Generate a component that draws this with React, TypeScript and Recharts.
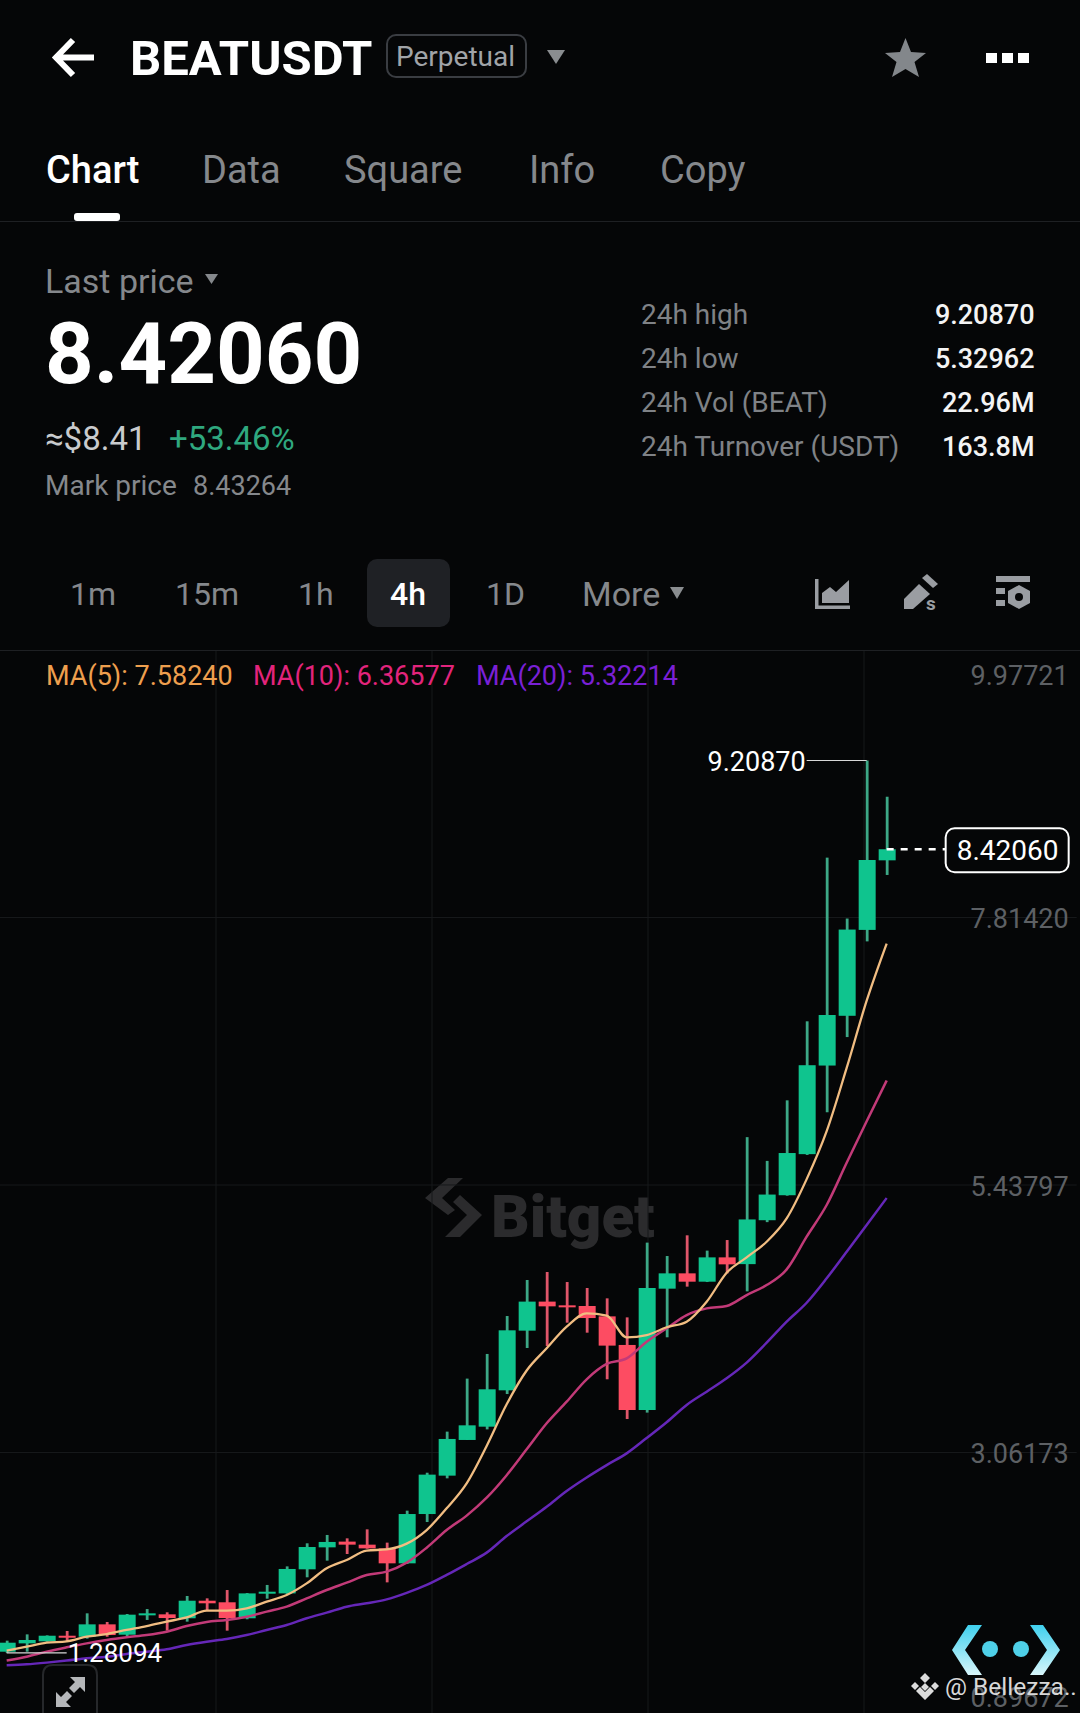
import React from 'react';
import { Bar, CartesianGrid, ComposedChart, Line, ReferenceDot, ReferenceLine, XAxis, YAxis } from 'recharts';

const opens = [1.292, 1.366, 1.384, 1.434, 1.425, 1.535, 1.443, 1.615, 1.624, 1.589, 1.745, 1.731, 1.589, 1.808, 1.81, 2.024, 2.219, 2.27, 2.243, 2.21, 2.077, 2.515, 2.856, 3.173, 3.291, 3.614, 4.144, 4.402, 4.369, 4.363, 4.271, 4.017, 3.439, 4.517, 4.653, 4.579, 4.795, 4.735, 5.125, 5.347, 5.712, 6.499, 6.941, 7.704, 8.322];
const closes = [1.372, 1.396, 1.434, 1.42, 1.535, 1.44, 1.621, 1.633, 1.591, 1.745, 1.722, 1.591, 1.81, 1.825, 2.027, 2.222, 2.267, 2.243, 2.21, 2.077, 2.515, 2.865, 3.182, 3.303, 3.623, 4.147, 4.402, 4.36, 4.354, 4.256, 4.011, 3.439, 4.523, 4.653, 4.579, 4.795, 4.733, 5.132, 5.353, 5.722, 6.502, 6.948, 7.707, 8.325, 8.4206];
const highs = [1.39, 1.446, 1.437, 1.476, 1.633, 1.556, 1.627, 1.671, 1.642, 1.787, 1.766, 1.84, 1.813, 1.885, 2.05, 2.255, 2.329, 2.299, 2.379, 2.261, 2.545, 2.882, 3.247, 3.718, 3.937, 4.274, 4.594, 4.665, 4.576, 4.523, 4.431, 4.262, 4.926, 4.807, 4.991, 4.855, 4.949, 5.863, 5.652, 6.19, 6.892, 8.346, 7.805, 9.2087, 8.887];
const lows = [1.28094, 1.292, 1.381, 1.387, 1.408, 1.425, 1.42, 1.574, 1.479, 1.559, 1.657, 1.479, 1.58, 1.763, 1.805, 1.953, 2.101, 2.16, 2.207, 1.908, 2.071, 2.444, 2.832, 3.173, 3.267, 3.581, 3.99, 4.008, 4.215, 4.126, 3.712, 3.359, 3.416, 4.085, 4.535, 4.576, 4.653, 4.493, 5.108, 5.343, 5.705, 6.084, 6.752, 7.602, 8.192];
const ma5 = [1.301, 1.337, 1.372, 1.384, 1.425, 1.449, 1.485, 1.52, 1.559, 1.597, 1.657, 1.657, 1.677, 1.737, 1.796, 1.899, 2.033, 2.107, 2.19, 2.201, 2.252, 2.373, 2.566, 2.788, 3.12, 3.49, 3.79, 3.987, 4.179, 4.298, 4.277, 4.085, 4.105, 4.174, 4.224, 4.401, 4.659, 4.795, 4.934, 5.141, 5.49, 5.916, 6.478, 7.075, 7.5824];
const ma10 = [1.213, 1.248, 1.293, 1.331, 1.366, 1.396, 1.42, 1.44, 1.47, 1.52, 1.556, 1.574, 1.603, 1.648, 1.692, 1.766, 1.84, 1.905, 1.973, 2.003, 2.083, 2.216, 2.373, 2.501, 2.66, 2.86, 3.09, 3.321, 3.513, 3.712, 3.848, 3.898, 4.046, 4.165, 4.283, 4.342, 4.363, 4.46, 4.549, 4.688, 4.979, 5.26, 5.635, 6.004, 6.36577];
const ma20 = [1.171, 1.18, 1.195, 1.213, 1.234, 1.248, 1.272, 1.292, 1.313, 1.352, 1.381, 1.405, 1.44, 1.485, 1.529, 1.589, 1.639, 1.692, 1.722, 1.757, 1.815, 1.885, 1.974, 2.071, 2.172, 2.32, 2.45, 2.58, 2.72, 2.84, 2.95, 3.054, 3.19, 3.33, 3.484, 3.602, 3.721, 3.86, 4.037, 4.224, 4.392, 4.609, 4.845, 5.082, 5.32214];

const priceTicks = [0.89672, 3.06173, 5.43797, 7.8142, 9.97721];
const gridPrices = [3.06173, 5.43797, 7.8142];
const tabs = ['Chart', 'Data', 'Square', 'Info', 'Copy'];
const tabX = [46, 202, 344, 529, 660];
const intervals = ['1m', '15m', '1h', '4h', '1D', 'More'];
const intervalX = [70, 175, 298, 390, 486, 582];
const stats = [
    ['24h high', '9.20870'],
    ['24h low', '5.32962'],
    ['24h Vol (BEAT)', '22.96M'],
    ['24h Turnover (USDT)', '163.8M'],
];
const statY = [315, 358.5, 403, 446.5];

const lastPrice = 8.4206;
const highPrice = 9.2087;
const lowPrice = 1.28094;
const SLOTS = 54;

const rows = Array.from({ length: SLOTS }, (_, i) => ({
    slot: i,
    open: opens[i],
    close: closes[i],
    high: highs[i],
    low: lows[i],
    ma5: ma5[i],
    ma10: ma10[i],
    ma20: ma20[i],
}));

const UP = '#0fc48e';
const DOWN = '#fd4c62';
const UP_WICK = '#3da886';
const DOWN_WICK = '#e0566a';
const BG = '#050607';
const ICON = '#9a9da2';
const FONT = 'Roboto, sans-serif';

function Candle({ x, y, width, height, payload }: any) {
    if (payload.high == null) return null;
    const { open, close, high, low } = payload;
    const top = Math.min(y, y + height);
    const unit = Math.abs(height) / (high - low);
    const bodyTop = top + (high - Math.max(open, close)) * unit;
    const bodyH = Math.max(Math.abs(open - close) * unit, 2);
    const up = close >= open;
    return (
        <g>
            <rect x={x + width / 2 - 1.4} y={top} width={2.8} height={Math.abs(height)} fill={up ? UP_WICK : DOWN_WICK} />
            <rect x={x} y={bodyTop} width={width} height={bodyH} fill={up ? UP : DOWN} />
        </g>
    );
}

function PriceTag({ cx, cy }: any) {
    return (
        <g>
            <rect x={cx - 61} y={cy - 21} width={123} height={44} rx={9} fill={BG} stroke="#fff" strokeWidth={2} />
            <text x={cx + 1} y={cy + 3.5} fill="#fff" fontSize={28} fontFamily={FONT} textAnchor="middle" dominantBaseline="middle">
                {lastPrice.toFixed(5)}
            </text>
        </g>
    );
}

function Txt({ x, y, size, color, weight = 400, right = false, children }: any) {
    const pos = right ? { right: 1080 - x } : { left: x };
    return (
        <div style={{ position: 'absolute', ...pos, top: y, transform: 'translateY(-50%)', fontSize: size, color, fontWeight: weight, fontFamily: FONT, lineHeight: 1, whiteSpace: 'nowrap' }}>
            {children}
        </div>
    );
}

function Icons() {
    return (
        <svg width={1080} height={1713} style={{ position: 'absolute', left: 0, top: 0 }}>
            {/* header */}
            <path d="M73 40 L56 57.5 L73 75 M56 57.5 H94" fill="none" stroke="#fff" strokeWidth={6} />
            <polygon points="547,50 565,50 556,64" fill="#8a8d90" />
            <polygon points="905.5,38 911,52 926,53 914.5,62 919,77 905.5,69 892,77 896.5,62 885,53 900,52" fill="#83878b" />
            <rect x={986} y={53} width={11} height={10} fill="#fff" />
            <rect x={1002} y={53} width={11} height={10} fill="#fff" />
            <rect x={1018} y={53} width={11} height={10} fill="#fff" />
            <rect x={74} y={213} width={46} height={8} rx={3} fill="#fff" />
            <rect x={0} y={221} width={1080} height={1} fill="#1e2023" />
            <polygon points="205,274 218,274 211.5,284" fill="#85888c" />
            {/* interval row */}
            <rect x={367} y={559} width={83} height={68} rx={10} fill="#1f2125" />
            <polygon points="670,587 684,587 677,599" fill="#8a8d90" />
            <path d="M815 579 h3.5 v26.5 h31.5 v3.5 h-35 z" fill={ICON} />
            <polygon points="822,603 822,593 830,587 836,592 849,580 849,603" fill={ICON} />
            <polygon points="904,599 919,584 930,594 913,609 904,609" fill={ICON} />
            <polygon points="927,574 938,584 933,588 922,578" fill={ICON} />
            <text x={926} y={610} fontSize={19} fontWeight={700} fontFamily={FONT} fill={ICON}>s</text>
            <rect x={996} y={576} width={34} height={6} fill={ICON} />
            <rect x={996} y={588} width={9} height={6} fill={ICON} />
            <rect x={996} y={600} width={9} height={6} fill={ICON} />
            <polygon points="1019,585 1030,591 1030,603 1019,609 1008,603 1008,591" fill={ICON} />
            <circle cx={1019} cy={597} r={4} fill={BG} />
            <rect x={0} y={650} width={1080} height={1} fill="#1e2023" />
            {/* Bitget watermark */}
            <polygon points="448,1178 463,1178 442,1198 455,1210 448,1215 425,1198" fill="#2b2b2d" />
            <polygon points="460,1195 482,1215 460,1237 445,1237 467,1215 453,1202" fill="#2b2b2d" />
            <text x={491} y={1237} fontSize={60} fontWeight={900} fontFamily={FONT} fill="#2b2b2d">Bitget</text>
            {/* expand button */}
            <path d="M43 1713 V1675 Q43 1665 53 1665 H87 Q97 1665 97 1675 V1713" fill="none" stroke="#26282b" strokeWidth={2} />
            <path d="M70 1677 H85 V1692 L80 1687 L74 1693 L69 1688 L75 1682 Z M71 1707 H56 V1692 L61 1697 L67 1691 L72 1696 L66 1702 Z" fill="#b5b7ba" />
            {/* corner logo */}
            <defs>
                <linearGradient id="cy" x1="0" y1="0" x2="0" y2="1">
                    <stop offset="0" stopColor="#3fd0ee" />
                    <stop offset="1" stopColor="#d8f6fb" />
                </linearGradient>
            </defs>
            <polygon points="952,1650 968,1625 982,1625 965,1650 982,1675 968,1675" fill="url(#cy)" />
            <polygon points="1060,1650 1043,1625 1030,1625 1047,1650 1030,1675 1043,1675" fill="url(#cy)" />
            <circle cx={990} cy={1649} r={8} fill="#4fd0e8" />
            <circle cx={1021} cy={1649} r={8} fill="#4fd0e8" />
            <path d="M925 1673 l5 5 l-5 5 l-5 -5 z M915 1682 l4 4 l-4 4 l-4 -4 z M935 1682 l4 4 l-4 4 l-4 -4 z M925 1683 l4 4 l-4 4 l-4 -4 z M925 1692 l5 -5 l4 4 l-9 9 l-9 -9 l4 -4 z" fill="#dcdcdc" />
        </svg>
    );
}

function App() {
    return (
        <div style={{ position: 'absolute', left: 0, top: 0, width: 1080, height: 1713, background: BG, overflow: 'hidden' }}>
            <Icons />

            <Txt x={130} y={58} size={49} color="#fff" weight={700}>BEATUSDT</Txt>
            <div style={{ position: 'absolute', left: 386, top: 34, width: 141, height: 44, boxSizing: 'border-box', border: '2px solid #3a3d42', borderRadius: 10 }} />
            <Txt x={396} y={56.5} size={28} color="#a0a4a8">Perpetual</Txt>

            {tabs.map((t, i) => (
                <Txt key={t} x={tabX[i]} y={170} size={38} color={i === 0 ? '#fff' : '#85888c'} weight={i === 0 ? 500 : 400}>{t}</Txt>
            ))}

            <Txt x={45} y={281} size={34} color="#85888c">Last price</Txt>
            <Txt x={45} y={354} size={85} color="#fff" weight={700}>8.42060</Txt>
            <Txt x={45} y={438} size={33} color="#c9cbcd">≈$8.41</Txt>
            <Txt x={169} y={438} size={33} color="#2fa87f">+53.46%</Txt>
            <Txt x={45} y={486} size={28} color="#85888c">Mark price</Txt>
            <Txt x={193} y={486} size={27} color="#85888c">8.43264</Txt>

            {stats.map(([label, value], i) => (
                <React.Fragment key={label}>
                    <Txt x={641} y={statY[i]} size={28} color="#7f8286">{label}</Txt>
                    <Txt x={1034.5} y={statY[i]} size={27} color="#f4f4f4" weight={500} right>{value}</Txt>
                </React.Fragment>
            ))}

            {intervals.map((t, i) => (
                <Txt key={t} x={intervalX[i]} y={594} size={t === 'More' ? 34 : 32} color={t === '4h' ? '#fff' : '#85888c'} weight={t === '4h' ? 500 : 400}>{t}</Txt>
            ))}

            <div style={{ position: 'absolute', left: 0, top: 651 }}>
                <ComposedChart
                    width={1080}
                    height={1062}
                    data={rows}
                    margin={{ top: 0, right: 3.33, bottom: 0, left: -3.33 }}
                >
                    <CartesianGrid
                        stroke="#17191b"
                        horizontalValues={gridPrices}
                        verticalPoints={[216, 432, 648, 864]}
                    />
                    <XAxis dataKey="slot" type="category" hide />
                    <YAxis
                        orientation="right"
                        mirror
                        domain={[0.7475, 10.1816]}
                        ticks={priceTicks}
                        interval={0}
                        allowDataOverflow
                        axisLine={false}
                        tickLine={false}
                        tick={{ fill: '#5d6064', fontSize: 27, fontFamily: FONT, dy: 1 }}
                        tickFormatter={(v: number) => v.toFixed(5)}
                    />
                    <ReferenceLine
                        segment={[{ x: 44, y: lastPrice }, { x: 47, y: lastPrice }]}
                        stroke="#fff"
                        strokeWidth={2.4}
                        strokeDasharray="7 7"
                    />
                    <Bar
                        dataKey={(d: any) => (d.high == null ? undefined : [d.low, d.high])}
                        barSize={17}
                        shape={<Candle />}
                        isAnimationActive={false}
                    />
                    <Line dataKey="ma20" type="monotone" stroke="#6527b8" strokeWidth={2.5} dot={false} isAnimationActive={false} />
                    <Line dataKey="ma10" type="monotone" stroke="#c23a78" strokeWidth={2.5} dot={false} isAnimationActive={false} />
                    <Line dataKey="ma5" type="monotone" stroke="#f1bd82" strokeWidth={2.3} dot={false} isAnimationActive={false} />
                    <ReferenceLine segment={[{ x: 40, y: highPrice }, { x: 43, y: highPrice }]} stroke="#d8d8d8" strokeWidth={1.2} />
                    <ReferenceDot
                        x={40}
                        y={highPrice}
                        r={0}
                        stroke="none"
                        label={{ value: highPrice.toFixed(5), position: 'left', offset: 1, fill: '#fff', fontSize: 27, fontFamily: FONT, dy: 1 }}
                    />
                    <ReferenceLine segment={[{ x: 0, y: lowPrice }, { x: 3, y: lowPrice }]} stroke="#d8d8d8" strokeWidth={1.2} />
                    <ReferenceDot
                        x={3}
                        y={lowPrice}
                        r={0}
                        stroke="none"
                        label={{ value: lowPrice.toFixed(5), position: 'right', offset: 1, fill: '#fff', fontSize: 26, fontFamily: FONT }}
                    />
                    <ReferenceDot x={50} y={lastPrice} shape={<PriceTag />} />
                </ComposedChart>
            </div>

            <Txt x={46} y={676} size={27} color="#ee9f4e">MA(5): {ma5[44].toFixed(5)}</Txt>
            <Txt x={253} y={676} size={27} color="#e2247c">MA(10): {ma10[44].toFixed(5)}</Txt>
            <Txt x={476} y={676} size={27} color="#7a20d6">MA(20): {ma20[44].toFixed(5)}</Txt>
            <Txt x={945} y={1687} size={24.5} color="#d8d8d8">@ Bellezza..</Txt>
        </div>
    );
}

export default App;
